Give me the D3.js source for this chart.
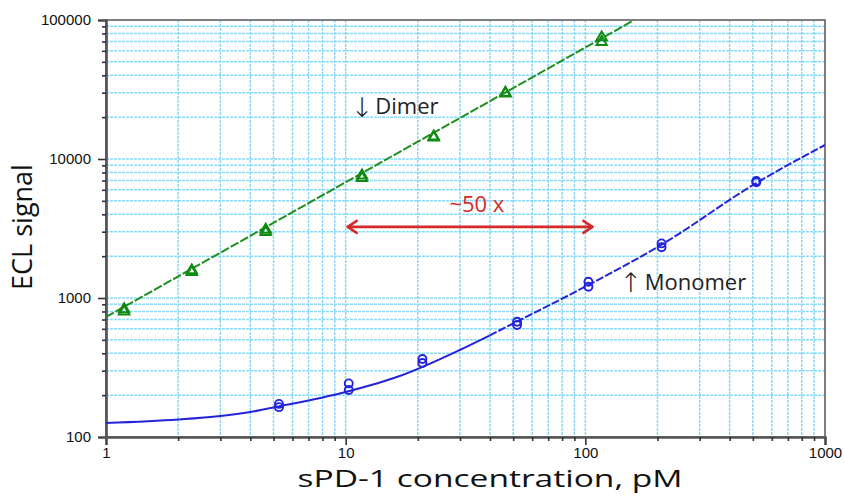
<!DOCTYPE html>
<html><head><meta charset="utf-8">
<script src="https://cdn.jsdelivr.net/npm/d3@7"></script>
<style>
html,body{margin:0;padding:0;background:#fff;}
svg{display:block;}
</style></head>
<body>
<svg id="chart" width="844" height="496"></svg>
<script>
// ---- data ----
const xTickLabels = [1, 10, 100, 1000];
const yTickLabels = [100, 1000, 10000, 100000];

const dimerConc = [1.19, 2.28, 4.64, 11.7, 23.3, 46.4, 117];
const dimerRep1 = [830, 1580, 3100, 7600, 14500, 30000, 75000];
const dimerRep2 = [800, 1540, 2980, 7300, 14300, 29600, 69500];
// fitted dimer line
const dimerFitX = [1, 160];
const dimerFitY = [730, 100000];

const monoConc = [5.27, 10.3, 20.9, 51.9, 103, 208, 517];
const monoRep1 = [173, 243, 364, 675, 1310, 2470, 6950];
const monoRep2 = [164, 218, 341, 640, 1205, 2320, 6800];
// fitted monomer curve
const monoFitX = [1, 2, 3, 4, 5.26, 10, 16.8, 29.9, 39.8, 51.4, 103, 207, 517, 1000];
const monoFitY = [126, 133.6, 141.6, 151.3, 165.8, 210.8, 274.7, 422.6, 537, 672, 1240, 2406, 6720, 12610];
const solidUpTo = 39.8; // fit drawn solid below, dashed above

// ---- layout ----
const svg = d3.select("#chart");
const L = 106, R = 825, T = 20, B = 437;
const x = d3.scaleLog().domain([1, 1000]).range([L, R]);
const y = d3.scaleLog().domain([100, 100000]).range([B, T]);

const gridColor = "#8fd8f3";
const axisColor = "#555";

// grid
const xGrid = x.ticks().filter(v => v > 1 && v < 1000);
const yGrid = y.ticks().filter(v => v > 100 && v < 100000);
const g = svg.append("g");
g.selectAll("line.xg").data(xGrid).join("line")
  .attr("x1", d => x(d)).attr("x2", d => x(d)).attr("y1", T).attr("y2", B)
  .attr("stroke", gridColor).attr("stroke-width", 1.5).attr("stroke-dasharray", "3,1");
g.selectAll("line.yg").data(yGrid).join("line")
  .attr("y1", d => y(d)).attr("y2", d => y(d)).attr("x1", L).attr("x2", R)
  .attr("stroke", gridColor).attr("stroke-width", 1.5).attr("stroke-dasharray", "3,1");

// frame
svg.append("rect").attr("x", L).attr("y", T).attr("width", R - L).attr("height", B - T)
  .attr("fill", "none").attr("stroke", axisColor).attr("stroke-width", 1.5);

// axes
const minorX = x.ticks().filter(v => !xTickLabels.includes(v));
const minorY = y.ticks().filter(v => !yTickLabels.includes(v));
const fmt = d3.format("d");

const xa = svg.append("g").attr("transform", `translate(0,${B})`)
  .call(d3.axisBottom(x).tickValues(xTickLabels).tickFormat(fmt).tickSize(8).tickPadding(2));
const xm = svg.append("g").attr("transform", `translate(0,${B})`)
  .call(d3.axisBottom(x).tickValues(minorX).tickFormat("").tickSize(4));
const ya = svg.append("g").attr("transform", `translate(${L},0)`)
  .call(d3.axisLeft(y).tickValues(yTickLabels).tickFormat(fmt).tickSize(8).tickPadding(7));
const ym = svg.append("g").attr("transform", `translate(${L},0)`)
  .call(d3.axisLeft(y).tickValues(minorY).tickFormat("").tickSize(4));
[xa, xm, ya, ym].forEach(a => {
  a.select(".domain").attr("stroke", axisColor).attr("stroke-width", 2.2);
  a.selectAll(".tick line").attr("stroke", "#333").attr("stroke-width", 1.6);
  a.selectAll(".tick text").attr("fill", "#111")
    .style("font-family", "'Liberation Sans', Arial, sans-serif").style("font-size", "15px");
});

// clip
svg.append("clipPath").attr("id", "plotclip").append("rect")
  .attr("x", L).attr("y", T).attr("width", R - L).attr("height", B - T);
const plot = svg.append("g").attr("clip-path", "url(#plotclip)");

const line = d3.line().x(d => x(d[0])).y(d => y(d[1]));
const lineSmooth = d3.line().x(d => x(d[0])).y(d => y(d[1])).curve(d3.curveMonotoneX);

// dimer fit
const green = "#1f8f1f";
plot.append("path").datum(dimerFitX.map((v, i) => [v, dimerFitY[i]]))
  .attr("d", line).attr("fill", "none").attr("stroke", green).attr("stroke-width", 2)
  .attr("stroke-dasharray", "9,2");

// monomer fit: solid then dashed
const blue = "#2424d8";
const monoPts = monoFitX.map((v, i) => [v, monoFitY[i]]);
plot.append("path").datum(monoPts.filter(d => d[0] <= solidUpTo)).attr("d", lineSmooth)
  .attr("fill", "none").attr("stroke", blue).attr("stroke-width", 2);
plot.append("path").datum(monoPts.filter(d => d[0] >= solidUpTo)).attr("d", lineSmooth)
  .attr("fill", "none").attr("stroke", blue).attr("stroke-width", 2).attr("stroke-dasharray", "8,2");

// markers
const tri = d3.symbol().type(d3.symbolTriangle).size(46);
[dimerRep1, dimerRep2].forEach(rep => {
  plot.selectAll(null).data(dimerConc.map((v, i) => [v, rep[i]])).join("path")
    .attr("d", tri).attr("transform", d => `translate(${x(d[0])},${y(d[1])})`)
    .attr("fill", "none").attr("stroke", "#118a11").attr("stroke-width", 2);
});
[monoRep1, monoRep2].forEach(rep => {
  plot.selectAll(null).data(monoConc.map((v, i) => [v, rep[i]])).join("circle")
    .attr("cx", d => x(d[0])).attr("cy", d => y(d[1])).attr("r", 4)
    .attr("fill", "none").attr("stroke", "#2222e0").attr("stroke-width", 1.9);
});

// annotations
const textFont = "'Open Sans', Lato, sans-serif";
const arrowFont = "'DejaVu Sans', sans-serif";
const red = "#d42a2a";
const arrowFrom = 10.2, arrowTo = 107, arrowY = 3250;
const ax1 = x(arrowFrom), ax2 = x(arrowTo), ay = y(arrowY);
const ann = svg.append("g").attr("stroke", red).attr("stroke-width", 2.6).attr("fill", "none")
  .attr("stroke-linecap", "round").attr("stroke-linejoin", "round");
ann.append("line").attr("x1", ax1).attr("x2", ax2).attr("y1", ay).attr("y2", ay);
ann.append("path").attr("d", `M${ax1 + 9},${ay - 6} L${ax1},${ay} L${ax1 + 9},${ay + 6}`);
ann.append("path").attr("d", `M${ax2 - 9},${ay - 6} L${ax2},${ay} L${ax2 - 9},${ay + 6}`);

svg.append("text").attr("x", x(27.1)).attr("y", y(4160)).text("~50 x")
  .attr("fill", red).style("font-family", textFont).style("font-size", "22px");

function arrowLabel(arrow, label, xArrow, xLabel, yBase, arrowShift) {
  const t = svg.append("text").attr("y", y(yBase)).attr("fill", "#222");
  t.append("tspan").attr("x", x(xArrow)).attr("dy", arrowShift).text(arrow)
    .style("font-family", arrowFont).style("font-size", "27px").style("font-weight", "200");
  t.append("tspan").attr("x", x(xLabel)).attr("dy", -arrowShift).text(label)
    .style("font-family", textFont).style("font-size", "22px");
}
arrowLabel("↓", "Dimer", 10.5, 13.3, 21100, 3);
arrowLabel("↑", "Monomer", 139, 177, 1143, 2);

// axis titles
svg.append("text").attr("x", 490).attr("y", 487).attr("text-anchor", "middle")
  .attr("textLength", 385).attr("lengthAdjust", "spacingAndGlyphs")
  .text("sPD-1 concentration, pM").attr("fill", "#111")
  .style("font-family", textFont).style("font-size", "24px");
svg.append("text").attr("transform", "translate(32,227) rotate(-90)").attr("text-anchor", "middle")
  .text("ECL signal").attr("fill", "#111")
  .style("font-family", textFont).style("font-size", "27px");
</script>
</body></html>
